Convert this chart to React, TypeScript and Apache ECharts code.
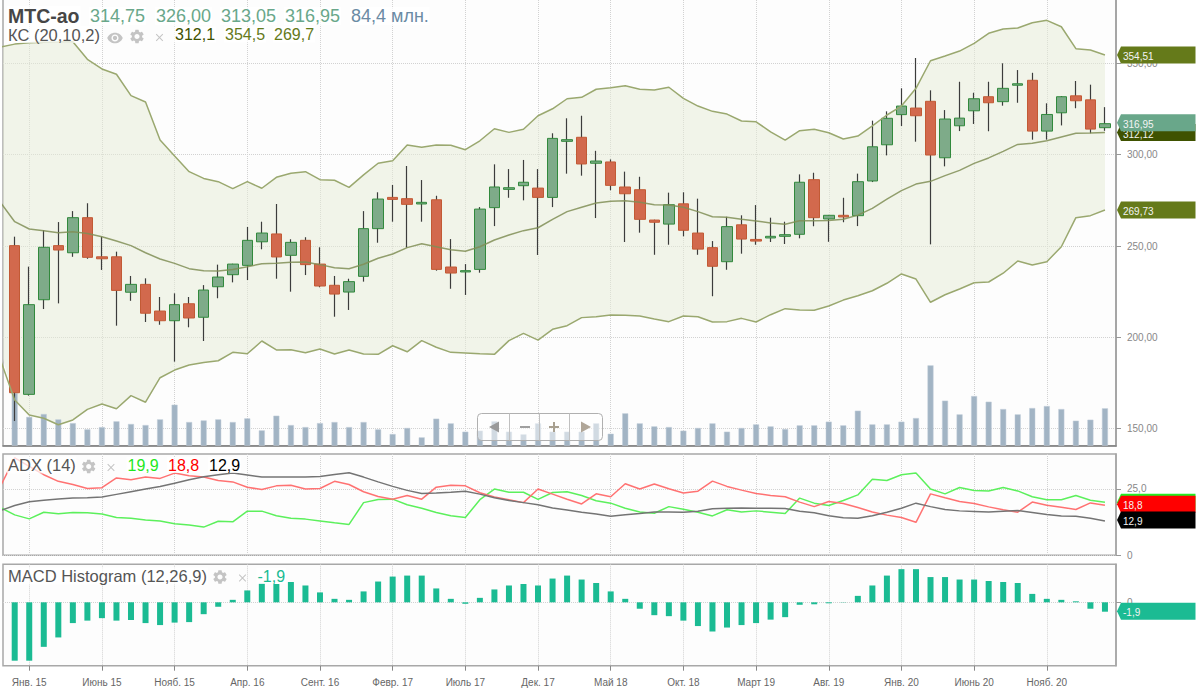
import React, { useEffect, useRef } from "react";
import * as echarts from "echarts";

const FONT = "'Liberation Sans', Arial, sans-serif";

const monthTickIndex = [1, 6, 11, 16, 21, 26, 31, 36, 41, 46, 51, 56, 61, 66, 71];
const monthTickLabels = ["Янв. 15", "Июнь 15", "Нояб. 15", "Апр. 16", "Сент. 16", "Февр. 17", "Июль 17", "Дек. 17", "Май 18", "Окт. 18", "Март 19", "Авг. 19", "Янв. 20", "Июнь 20", "Нояб. 20"];
const priceTicks = [150, 200, 250, 300, 350];
const adxTicks = [0, 25];
const macdTicks = [0];

const candleOpen = [250.2,168.8,220.6,250.2,246.3,265.5,244.1,244.1,224.7,229,214.4,209.1,218.4,211,227.7,234.3,239.4,252.3,256.6,244.9,253.1,240.1,228.5,224.8,233.4,259.5,276.6,275.9,273,275.3,238.5,235.8,237.2,271,281,283,281.7,276.6,307.3,309.5,295.3,296,282.3,280.8,264.2,262,273.1,257.1,249.1,241.4,261.6,253.6,254.4,255.3,256.4,286.3,264.8,266.8,266.6,285.6,305.4,321.9,325.5,329.2,298.3,315.8,324,331.7,329,338,340.7,312.9,322.9,332.2,330,314.75];
const candleClose = [169.7,217.9,249.3,247.8,265.5,243.8,243,225.7,229,213.2,209.1,217.9,210.6,225.9,233,240.1,253.1,257.1,244,252,239.8,228.1,223.7,230.5,259.5,275.7,275.5,272.8,273.9,237.2,235.2,236.5,270.2,282.3,281.9,284.9,276.6,308.9,308.2,294.9,296.5,283.2,278.6,264.6,263,272.6,258.6,248.3,238.9,260.6,253.8,252.7,255.3,256.2,284.9,265.5,266.8,265.9,285.2,304.3,319.9,326.6,321.3,299.8,319.5,320,330.6,328.4,336.3,338.8,312.9,322,331.7,329.5,314,316.95];
const candleLow = [154.2,168.1,215.5,218.6,244.1,243,236.9,206.4,220,208.4,206.9,186.7,205.5,198,221.4,230.1,231.4,248.2,232.1,225,234.1,227.4,211.3,215,230.5,251.8,263.3,249.1,263.3,236.5,226.6,223.2,235.4,260.9,276.4,275,245.1,271.3,289.6,288.5,265.3,280.5,252.2,257.3,245.2,250.7,255.3,245.2,222.5,237,245.8,250.7,252.2,251.1,254.2,260.8,252.3,263,260.9,285,299.6,315.7,307.1,250.9,293.6,312.9,316.8,312.8,326.8,328.4,308.2,308.2,316,325.4,311.7,313.05];
const candleHigh = [255.1,238.7,258.7,263.1,269.1,273.4,255.1,246.9,233.6,232.3,222.1,224.1,222.1,228.6,239.8,240.3,260.4,263.3,273,253.7,254.8,249.3,233.6,232.1,269.1,279.4,283.4,293.8,286.1,277.5,253.8,240.1,271.3,294.7,292.1,297.1,292.1,311.7,319.9,321.3,302.1,297.4,290.7,287.9,264.4,279.2,279.4,275.9,252.7,266,266.8,272.4,265.5,263.3,289.2,290.1,267,276.4,289.6,318.6,323.7,336.3,352.9,335.2,324.4,339.9,333.9,339.9,350,346.3,344.8,328.1,332.1,340.3,338.3,326];

// The band and ADX lists begin one period before the first candle.
const bandUpper = [358.9,360.5,361.3,361.5,361.6,361.8,352.2,346.9,344,332.3,328.8,308,299.3,290.7,287,285.2,281.4,285.2,281.6,287.6,289.8,290.7,286.3,286,282.1,288.9,295.3,296.7,305.3,304,305.3,305.1,302.7,307.6,314.2,312.2,313.9,321.3,325.1,330.6,331.4,335.8,336.6,337.7,335.8,335.4,336.9,330.8,326.6,323.7,322.2,318.4,318,312.5,307.9,313.1,313.9,312,308.6,310.2,315.7,321.7,326.6,336.3,351.4,354,356.7,360.9,366.4,368.8,369.3,372.2,373.5,370,358,357.3,354.51];
const bandMiddle = [274.1,263.3,259.3,258.4,257.3,257.8,256.9,255.1,252.7,250.2,246.3,242.9,240.5,237.6,236.5,236.3,237.2,238.7,240.3,240.5,241.1,241.2,239.8,238.1,237.6,240,243.3,245.6,249.1,251.2,249.6,248,247.1,249.6,253.3,256,258.4,260,264.6,268.8,271.2,273.5,274.5,274.8,273.9,272.6,272.4,271.2,268.8,266,265.7,264.6,263.7,262.6,261.9,263.8,263.8,264,264.6,266.9,270.6,275.7,280.3,283.9,285.4,288.5,291.4,295.2,298.2,301.8,305.6,306.2,307.6,309.7,311.7,311.8,312.12];
const bandLower = [188.1,165.7,157.5,155.7,152.2,154.8,160.6,163.5,160.9,168.1,164.5,177.9,182.1,184.9,186.3,187.2,191.8,191,198,193.1,193.2,191.6,193.6,190.9,193.1,190.9,190.7,195.4,192.1,198.2,194.6,191.8,191.4,191,190.7,198.2,202.2,198.5,204.4,206.4,210.8,211.3,212.2,212.1,211.7,210,208.6,211.7,211.3,208.4,208.6,210.4,208.4,212.4,215.7,215,214.8,217.2,220.4,222.8,225.5,229.6,234.7,231.9,219.2,223.3,226.5,229.9,230.3,235.1,241.8,239.6,241.4,249.6,265.5,266.6,269.73];

const volumeMln = [119,65,71.5,59.4,51,36.9,42,55,49,46.6,59.4,92.5,53.4,57,59.4,53.4,61.7,34.6,67.7,46.6,42,51,53.4,42,53.4,36.9,26.3,40,18.8,61,50.4,31.6,33.9,55,31.6,25.6,50.4,31.6,31.6,31.6,50.4,27,73,50.4,43.6,42.1,33.9,40,50.4,31.6,40,48.1,43.6,37.6,45.9,45.9,54.2,45.9,79,48.1,48.1,54.2,62.4,181.3,101.6,70.7,112.1,99.3,82.7,70.7,85,89.5,82.7,56.4,58.7,84.4];

const diPlus = [18,15.2,13.7,16.2,15.6,16.1,16,15.5,14.2,13.9,13.3,12.9,11.9,11.4,10.6,12.8,12.6,16.6,16.6,14.9,13.9,13.6,12.9,12.2,11.6,19.8,21,21.1,19,17.7,16.1,14.9,14.2,20.9,24.9,23.7,23.7,21,23.6,23.9,22.5,20.5,19.6,17.7,16.3,15.8,18.3,17.3,16.2,14.8,17.1,16.3,16.7,16.2,15.7,21.5,19.6,18.7,20.6,22.7,28.6,28.1,30.3,30.9,24.9,23.1,25.5,24.4,24.2,25.5,24.2,22,20.9,20.9,22.5,20.7,19.9];
const diMinus = [25.8,36.6,33.4,30.3,27.8,26.6,25.1,25.4,29.1,28.4,29.4,28.9,30.9,29.9,29.4,28.1,27.6,25.6,24.7,26.1,26.3,24.9,25.1,27.8,26.6,23.9,22.1,21.1,22.5,21.1,25.6,26.3,26.1,23.5,21.9,20.9,19.8,24.9,23,21.1,19.3,23.1,22,26.9,24.9,26.8,25,23.4,24.1,27.9,25.9,24.5,23.2,22.5,22,20,18.3,20.2,19.5,18,16.3,15.1,14.2,12.4,23.1,21.6,20.2,19.5,18.2,17.1,16.2,20,18.8,18.1,17.2,19.7,18.8];
const adxLine = [16.8,18.7,20.1,20.7,21.2,21.5,21.6,21.9,22.9,23.9,24.9,25.9,27.1,28.4,29.5,30.3,30.9,30.2,29.4,29.4,29.4,29.4,29.6,30.4,31,29.4,27.6,25.9,24.4,23.2,23.4,23.7,24.1,23,21.6,20.6,19.8,19,17.8,17,16.2,15.5,14.7,15.2,15.7,16.3,16.3,16.2,16.6,17.5,17.7,17.8,17.7,17.7,17.6,16.6,16,14.9,14.1,13.9,14.9,16.2,17.7,19.6,18.3,17.2,16.7,16.5,16.3,16.6,16.8,16.1,15.3,14.8,14.7,13.9,12.9];

const macdHist = [-11.8,-11.8,-9,-7.1,-4.2,-3.7,-3.2,-3.7,-3.6,-4.2,-4.6,-4.1,-4,-2.4,-0.9,0.5,2.4,3.8,3.7,4.1,3.4,2,0.7,0.5,2.2,4.2,5.2,5.4,5.4,2.8,0.7,-0.3,0.9,2.6,3.4,3.7,3.4,4.8,5.4,4.6,3.9,2.2,0.7,-1.3,-2.6,-2.8,-3.7,-4.8,-5.9,-5.1,-4.6,-4.2,-3.5,-3,-0.5,-0.4,-0.2,0.05,1.3,3.4,5.4,6.7,6.7,5.1,5.1,4.6,4.6,4.3,4.1,3.9,1.7,0.7,0.5,0.2,-1.3,-1.9];

const GEAR = "M19.14 12.94c.04-.3.06-.61.06-.94 0-.32-.02-.64-.07-.94l2.03-1.58a.49.49 0 0 0 .12-.61l-1.92-3.32a.488.488 0 0 0-.59-.22l-2.39.96c-.5-.38-1.03-.7-1.62-.94l-.36-2.54a.484.484 0 0 0-.48-.41h-3.84c-.24 0-.43.17-.47.41l-.36 2.54c-.59.24-1.13.57-1.62.94l-2.39-.96c-.22-.08-.47 0-.59.22L2.74 8.87c-.12.21-.08.47.12.61l2.03 1.58c-.05.3-.09.63-.09.94s.02.64.07.94l-2.03 1.58a.49.49 0 0 0-.12.61l1.92 3.32c.12.22.37.29.59.22l2.39-.96c.5.38 1.03.7 1.62.94l.36 2.54c.05.24.24.41.48.41h3.84c.24 0 .44-.17.47-.41l.36-2.54c.59-.24 1.13-.56 1.62-.94l2.39.96c.22.08.47 0 .59-.22l1.92-3.32c.12-.22.07-.47-.12-.61l-2.01-1.58zM12 15.6c-1.98 0-3.6-1.62-3.6-3.6s1.62-3.6 3.6-3.6 3.6 1.62 3.6 3.6-1.62 3.6-3.6 3.6z";
const EYE = "M12 4.5C7 4.5 2.73 7.61 1 12c1.73 4.39 6 7.5 11 7.5s9.27-3.11 11-7.5c-1.73-4.39-6-7.5-11-7.5zM12 17c-2.76 0-5-2.24-5-5s2.24-5 5-5 5 2.24 5 5-2.24 5-5 5zm0-8c-1.66 0-3 1.34-3 3s1.34 3 3 3 3-1.34 3-3-1.34-3-3-3z";
const CROSS = "M5.5 4 L12 10.5 L18.5 4 L20 5.5 L13.5 12 L20 18.5 L18.5 20 L12 13.5 L5.5 20 L4 18.5 L10.5 12 L4 5.5 Z";
echarts.graphic.registerShape("gearIcon", echarts.graphic.extendPath(GEAR, {}));
echarts.graphic.registerShape("eyeIcon", echarts.graphic.extendPath(EYE, {}));
echarts.graphic.registerShape("crossIcon", echarts.graphic.extendPath(CROSS, {}));

const commaFixed = (v: number, d: number) => v.toFixed(d).replace(".", ",");
const withLead = (arr: number[]) => arr.map((v, i) => [i - 1, v]);
const bySlot = (arr: number[]) => arr.map((v, i) => [i, v]);

const panelAxisX = {
  type: "value",
  min: -0.805,
  max: 75.76,
  axisLine: { show: false, onZero: false },
  axisTick: { show: false, customValues: monthTickIndex },
  axisLabel: { show: false },
  splitLine: { show: true, lineStyle: { color: "#d2d2d2", type: "dotted", width: 1 } },
};

const iconText = (text: string, x: number, y: number, fontSize: number, fill: string, fontWeight = "normal") => ({
  type: "text",
  z: 50,
  x,
  y,
  style: {
    text,
    fill,
    fontSize,
    fontWeight,
    fontFamily: FONT,
    verticalAlign: "middle",
    align: "left",
    backgroundColor: "rgba(255,255,255,0.72)",
    padding: [0, 1],
  },
});

const icon = (type: string, cx: number, cy: number, size: number, fill = "#c4c4c4") => ({
  type,
  z: 51,
  x: cx - size / 2,
  y: cy - size / 2,
  scaleX: size / 24,
  scaleY: size / 24,
  style: { fill },
});

const tag = (cy: number, fill: string, label: string, z: number) => [
  {
    type: "polygon",
    z,
    shape: { points: [[1117, cy], [1121, cy - 8.5], [1195.5, cy - 8.5], [1195.5, cy + 8.5], [1121, cy + 8.5]] },
    style: { fill },
  },
  {
    type: "text",
    z: z + 1,
    x: 1123,
    y: cy + 1.5,
    style: { text: label, fill: "#f4f4f4", fontSize: 10, fontFamily: FONT, verticalAlign: "middle", align: "left" },
  },
];

export default function App() {
  const ref = useRef<HTMLDivElement>(null);
  useEffect(() => {
    document.body.style.margin = "0";
    const chart = echarts.init(ref.current!, undefined, { renderer: "svg" });
    const gridBase = {
      show: true,
      backgroundColor: "#fdfdfd",
      borderColor: "#a8a8a8",
      borderWidth: 1.5,
      left: 3,
      width: 1113,
      containLabel: false,
      outerBoundsMode: "none",
    };
    const rightAxisLabel = { color: "#888", fontSize: 10, fontFamily: FONT, margin: 11 };
    const candleWicks = candleOpen.map((o, i) => [i, o, candleClose[i], candleLow[i], candleHigh[i]]);
    const candleBodies = candleOpen.map((o, i) => [i, o, candleClose[i], Math.min(o, candleClose[i]), Math.max(o, candleClose[i])]);
    const bandRows = bandUpper.map((v, i) => [i - 1, v, bandLower[i]]);
    const thinLine = (name: string, data: number[], color: string, xAxisIndex: number, yAxisIndex: number, width = 1.5) => ({
      name,
      type: "line",
      xAxisIndex,
      yAxisIndex,
      data: withLead(data),
      symbol: "none",
      smooth: false,
      lineStyle: { color, width },
    });

    chart.setOption({
      animation: false,
      backgroundColor: "#ffffff",
      grid: [
        { ...gridBase, top: -2, height: 447.7 },
        { ...gridBase, top: 454, height: 101.3 },
        { ...gridBase, top: 564.3, height: 101.4 },
      ],
      xAxis: [
        { ...panelAxisX, gridIndex: 0, axisLine: { show: true, onZero: false, lineStyle: { color: "#808080", width: 1.5 } } },
        { ...panelAxisX, gridIndex: 1 },
        {
          ...panelAxisX,
          gridIndex: 2,
          axisTick: { show: true, length: 5, customValues: monthTickIndex, lineStyle: { color: "#888" } },
          axisLabel: {
            show: true,
            customValues: monthTickIndex,
            color: "#666",
            fontSize: 10,
            fontFamily: FONT,
            margin: 12,
            formatter: (v: number) => monthTickLabels[monthTickIndex.indexOf(Math.round(v))],
          },
        },
      ],
      yAxis: [
        {
          type: "value",
          gridIndex: 0,
          position: "right",
          min: 140.7,
          max: 385.74,
          axisLine: { show: true, onZero: false, lineStyle: { color: "#a6a6a6", width: 2 } },
          axisTick: { show: true, length: 5, customValues: priceTicks, lineStyle: { color: "#999" } },
          axisLabel: { ...rightAxisLabel, customValues: priceTicks, formatter: (v: number) => commaFixed(v, 2) },
          splitLine: { show: true, lineStyle: { color: "#d2d2d2", type: "dotted", width: 1 } },
        },
        { type: "value", gridIndex: 0, position: "left", min: 0, max: 1010.5, show: false, axisLine: { onZero: false }, splitLine: { show: false } },
        {
          type: "value",
          gridIndex: 1,
          position: "right",
          min: 0,
          max: 38.08,
          axisLine: { show: true, onZero: false, lineStyle: { color: "#a6a6a6", width: 1.5 } },
          axisTick: { show: true, length: 5, customValues: adxTicks, lineStyle: { color: "#999" } },
          axisLabel: { ...rightAxisLabel, customValues: adxTicks, formatter: (v: number) => (v === 0 ? "0" : commaFixed(v, 1)) },
          splitLine: { show: true, lineStyle: { color: "#d2d2d2", type: "dotted", width: 1 } },
        },
        {
          type: "value",
          gridIndex: 2,
          position: "right",
          min: -12.81,
          max: 7.68,
          axisLine: { show: true, onZero: false, lineStyle: { color: "#a6a6a6", width: 1.5 } },
          axisTick: { show: true, length: 5, customValues: macdTicks, lineStyle: { color: "#999" } },
          axisLabel: { ...rightAxisLabel, customValues: macdTicks, formatter: () => "0" },
          splitLine: { show: true, lineStyle: { color: "#d2d2d2", type: "dotted", width: 1 } },
        },
      ],
      series: [
        {
          name: "KC fill",
          type: "custom",
          xAxisIndex: 0,
          yAxisIndex: 0,
          data: bandRows,
          encode: { x: 0, y: [1, 2] },
          z: 1,
          renderItem: (params: any, api: any) => {
            if (params.dataIndex !== 0) return null;
            const top = bandRows.map((r) => api.coord([r[0], r[1]]));
            const bottom = bandRows.map((r) => api.coord([r[0], r[2]])).reverse();
            const points = echarts.graphic.clipPointsByRect(top.concat(bottom), params.coordSys);
            return { type: "polygon", shape: { points }, style: { fill: "#e5ecd5", opacity: 0.5 } };
          },
        },
        {
          name: "Volume",
          type: "bar",
          xAxisIndex: 0,
          yAxisIndex: 1,
          data: bySlot(volumeMln),
          barWidth: 6,
          itemStyle: { color: "#a2b4c4", borderColor: "#c3cfda", borderWidth: 0.5 },
        },
        {
          name: "Wicks",
          type: "candlestick",
          xAxisIndex: 0,
          yAxisIndex: 0,
          data: candleWicks,
          encode: { x: 0, y: [1, 2, 3, 4] },
          barWidth: 1,
          itemStyle: { color: "#3c3c3c", color0: "#3c3c3c", borderColor: "#3c3c3c", borderColor0: "#3c3c3c", borderWidth: 1.2 },
        },
        {
          name: "МТС-ао",
          type: "candlestick",
          xAxisIndex: 0,
          yAxisIndex: 0,
          data: candleBodies,
          encode: { x: 0, y: [1, 2, 3, 4] },
          barWidth: 11,
          itemStyle: { color: "#7eab89", color0: "#d2694d", borderColor: "#31893c", borderColor0: "#c25a35", borderWidth: 1 },
        },
        thinLine("KC upper", bandUpper, "#9aa86f", 0, 0),
        thinLine("KC lower", bandLower, "#9aa86f", 0, 0),
        thinLine("KC middle", bandMiddle, "rgba(128,142,86,0.85)", 0, 0, 1.5),
        thinLine("+DI", diPlus, "#5cf05c", 1, 2),
        thinLine("-DI", diMinus, "#ff7272", 1, 2),
        thinLine("ADX", adxLine, "#747474", 1, 2),
        {
          name: "MACD Histogram",
          type: "bar",
          xAxisIndex: 2,
          yAxisIndex: 3,
          data: bySlot(macdHist),
          barWidth: 6,
          itemStyle: { color: "#1bbb93" },
        },
      ],
    });

    const yMain = (v: number) => chart.convertToPixel({ yAxisIndex: 0 }, v) as number;
    const yAdx = (v: number) => chart.convertToPixel({ yAxisIndex: 2 }, v) as number;
    const yMacd = (v: number) => chart.convertToPixel({ yAxisIndex: 3 }, v) as number;
    const last = candleClose.length - 1;
    const closeNow = candleClose[last];
    const upperNow = bandUpper[bandUpper.length - 1];
    const midNow = bandMiddle[bandMiddle.length - 1];
    const lowerNow = bandLower[bandLower.length - 1];
    const plusNow = diPlus[diPlus.length - 1];
    const minusNow = diMinus[diMinus.length - 1];
    const adxNow = adxLine[adxLine.length - 1];
    const macdNow = macdHist[last];
    const TEAL = "#69a78a";
    const OLIVE = "#657a1a";

    chart.setOption({
      graphic: [
        // nav widget
        { type: "rect", z: 40, shape: { x: 477.5, y: 413.5, width: 125, height: 27, r: 4 }, style: { fill: "rgba(255,255,255,0.5)", stroke: "#b0b0b0", lineWidth: 1 } },
        { type: "line", z: 41, shape: { x1: 509.5, y1: 413.5, x2: 509.5, y2: 440.5 }, style: { stroke: "#c0c0c0", lineWidth: 1 } },
        { type: "line", z: 41, shape: { x1: 539.5, y1: 413.5, x2: 539.5, y2: 440.5 }, style: { stroke: "#c0c0c0", lineWidth: 1 } },
        { type: "line", z: 41, shape: { x1: 569.5, y1: 413.5, x2: 569.5, y2: 440.5 }, style: { stroke: "#c0c0c0", lineWidth: 1 } },
        { type: "polygon", z: 41, shape: { points: [[489, 427], [499, 421.5], [499, 432.5]] }, style: { fill: "#9a9a9a" } },
        { type: "rect", z: 41, shape: { x: 520, y: 426, width: 10, height: 2 }, style: { fill: "#a0a0a0" } },
        { type: "rect", z: 41, shape: { x: 549, y: 426, width: 10, height: 2 }, style: { fill: "#a8a090" } },
        { type: "rect", z: 41, shape: { x: 553, y: 422, width: 2, height: 10 }, style: { fill: "#a8a090" } },
        { type: "polygon", z: 41, shape: { points: [[591, 427], [581, 421.5], [581, 432.5]] }, style: { fill: "#b0a698" } },
        // header main
        iconText("МТС-ао", 7, 16, 19.5, "#464646", "bold"),
        iconText("314,75", 89, 16, 18, TEAL),
        iconText("326,00", 155, 16, 18, TEAL),
        iconText("313,05", 220, 16, 18, TEAL),
        iconText("316,95", 284, 16, 18, TEAL),
        iconText("84,4 млн.", 350, 16, 18, "#6b8ba4"),
        iconText("КС (20,10,2)", 7, 34.5, 16.5, "#555555"),
        icon("eyeIcon", 115, 38, 17),
        icon("gearIcon", 137, 36.5, 17),
        icon("crossIcon", 159.5, 37.5, 11),
        iconText(commaFixed(midNow, 1), 174, 34.5, 16, "#3f5200"),
        iconText(commaFixed(upperNow, 1), 224, 34.5, 16, OLIVE),
        iconText(commaFixed(lowerNow, 1), 273, 34.5, 16, OLIVE),
        // header ADX
        iconText("ADX (14)", 7, 465, 16.5, "#555555"),
        icon("gearIcon", 88.7, 466.5, 17),
        icon("crossIcon", 111, 467.5, 11),
        iconText(commaFixed(plusNow, 1), 126.5, 465, 16, "#1ee81e"),
        iconText(commaFixed(minusNow, 1), 167, 465, 16, "#ff0000"),
        iconText(commaFixed(adxNow, 1), 208, 465, 16, "#000000"),
        // header MACD
        iconText("MACD Histogram (12,26,9)", 7, 576, 16.5, "#555555"),
        icon("gearIcon", 220, 577, 17),
        icon("crossIcon", 242.5, 578, 11),
        iconText(commaFixed(macdNow, 1), 256.5, 576, 16, "#1bbb93"),
        // value tags
        ...tag(yMain(midNow), "#3f5200", commaFixed(midNow, 2), 60),
        ...tag(yMain(upperNow), OLIVE, commaFixed(upperNow, 2), 62),
        ...tag(yMain(lowerNow), OLIVE, commaFixed(lowerNow, 2), 62),
        ...tag(yMain(closeNow) - 1, TEAL, commaFixed(closeNow, 2), 64),
        ...tag(yAdx(plusNow), "#22ee22", commaFixed(plusNow, 1), 60),
        ...tag(yAdx(minusNow) - 1, "#ff0000", commaFixed(minusNow, 1), 62),
        ...tag(yAdx(adxNow) - 1, "#000000", commaFixed(adxNow, 1), 64),
        ...tag(yMacd(macdNow) - 0.5, "#1bbb93", commaFixed(macdNow, 1), 60),
      ],
    });
    return () => chart.dispose();
  }, []);
  return <div ref={ref} style={{ width: 1200, height: 693 }} />;
}
